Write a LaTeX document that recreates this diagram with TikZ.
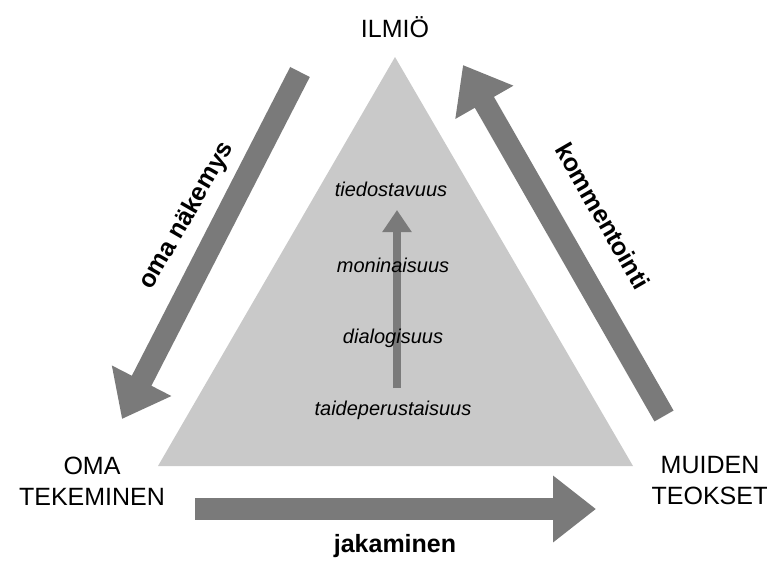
\documentclass[tikz,border=0pt]{standalone}
\usepackage{fontspec}
\setmainfont{Liberation Sans}
\usepackage{tikz}
\usetikzlibrary{arrows.meta}
\definecolor{arrowgray}{HTML}{7A7A7A}
\definecolor{trigray}{HTML}{C9C9C9}

\begin{document}
\begin{tikzpicture}[x=1pt, y=-1pt,
        corner/.style={align=center, font=\fontsize{25}{31}\selectfont, inner sep=0pt},
        flow/.style={font=\bfseries\fontsize{25}{30}\selectfont, inner sep=0pt},
        level/.style={font=\itshape\fontsize{20}{24}\selectfont, inner sep=0pt},
        bigarrow/.style={draw=arrowgray, line width=22pt, -{Triangle[length=43pt, width=64pt]}}]
        \useasboundingbox (0,0) rectangle (767,560);

        % triangle
        \fill[trigray] (158,466) -- (395,57) -- (633,466) -- cycle;

        % ends of the arrows
        \coordinate (view-start) at (300,72);
        \coordinate (view-end) at (122,419);
        \coordinate (comment-start) at (664,416);
        \coordinate (comment-end) at (463,65);
        \coordinate (share-start) at (195,509);
        \coordinate (share-end) at (596,509);
        \coordinate (rise-start) at (397,388);
        \coordinate (rise-end) at (397,210);

        \draw [draw=arrowgray, line width=8pt, -{Triangle[length=22pt, width=28pt]}] (rise-start) -- (rise-end);
        \draw [bigarrow] (view-start) -- (view-end);
        \draw [bigarrow] (comment-start) -- (comment-end);
        \draw [bigarrow] (share-start) -- (share-end);

        \node[corner] (ilmio) at (395,27) {ILMIÖ};
        \node[corner] (oma) at (92,481) {OMA\\TEKEMINEN};
        \node[corner] (muiden) at (710,481) {MUIDEN\\TEOKSET};

        \node[flow, rotate=60] (nakemys) at (187,216) {oma näkemys};
        \node[flow, rotate=-60] (kommentointi) at (603,216) {kommentointi};
        \node[flow] (jakaminen) at (395,546) {jakaminen};

        \node[level] (tiedostavuus) at (391,189) {tiedostavuus};
        \node[level] (moninaisuus) at (393,265) {moninaisuus};
        \node[level] (dialogisuus) at (393,338) {dialogisuus};
        \node[level] (taideperustaisuus) at (393,410) {taideperustaisuus};
    \end{tikzpicture}
\end{document}
